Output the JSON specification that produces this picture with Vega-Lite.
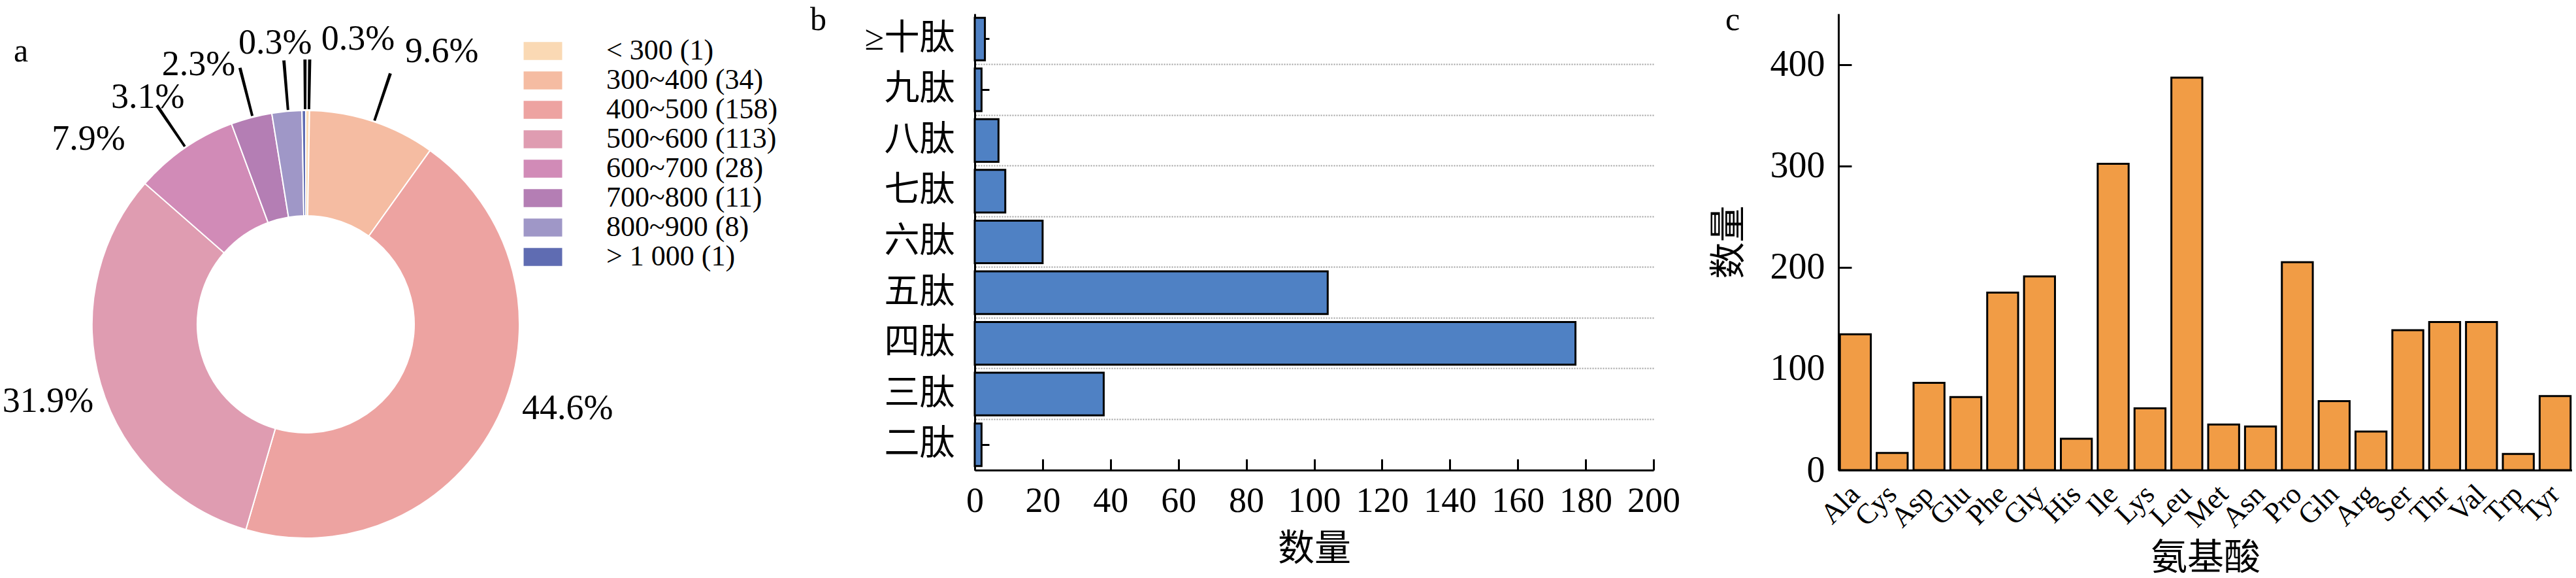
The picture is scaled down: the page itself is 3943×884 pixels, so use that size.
{
  "$schema": "https://vega.github.io/schema/vega-lite/v6.json",
  "padding": {"left": 3, "top": 6, "right": 0, "bottom": 0},
  "background": "white",
  "config": {
    "font": "Liberation Serif, Noto Sans CJK SC",
    "view": {"stroke": null},
    "title": {"font": "Liberation Serif", "fontSize": 50, "fontWeight": "normal", "anchor": "start", "frame": "group", "offset": 0, "baseline": "alphabetic", "color": "black"},
    "axis": {"domainColor": "black", "domainWidth": 3, "tickColor": "black", "tickWidth": 3, "labelColor": "black", "titleColor": "black", "labelFont": "Liberation Serif, Noto Sans CJK SC", "titleFont": "Liberation Serif, Noto Sans CJK SC", "titleFontWeight": "normal", "labelFontSize": 54, "titleFontSize": 56, "grid": false, "labelOverlap": false}
  },
  "datasets": {
    "pie": [
      {"i": 1, "range": "< 300 (1)", "n": 1, "pct": "0.3%"},
      {"i": 2, "range": "300~400 (34)", "n": 34, "pct": "9.6%"},
      {"i": 3, "range": "400~500 (158)", "n": 158, "pct": "44.6%"},
      {"i": 4, "range": "500~600 (113)", "n": 113, "pct": "31.9%"},
      {"i": 5, "range": "600~700 (28)", "n": 28, "pct": "7.9%"},
      {"i": 6, "range": "700~800 (11)", "n": 11, "pct": "3.1%"},
      {"i": 7, "range": "800~900 (8)", "n": 8, "pct": "2.3%"},
      {"i": 8, "range": "> 1 000 (1)", "n": 1, "pct": "0.3%"}
    ],
    "pep": [
      {"pep": "≥十肽", "n": 3},
      {"pep": "九肽", "n": 2},
      {"pep": "八肽", "n": 7},
      {"pep": "七肽", "n": 9},
      {"pep": "六肽", "n": 20},
      {"pep": "五肽", "n": 104},
      {"pep": "四肽", "n": 177},
      {"pep": "三肽", "n": 38},
      {"pep": "二肽", "n": 2}
    ],
    "aa": [
      {"aa": "Ala", "n": 134}, {"aa": "Cys", "n": 17}, {"aa": "Asp", "n": 86}, {"aa": "Glu", "n": 72},
      {"aa": "Phe", "n": 175}, {"aa": "Gly", "n": 191}, {"aa": "His", "n": 31}, {"aa": "Ile", "n": 302},
      {"aa": "Lys", "n": 61}, {"aa": "Leu", "n": 387}, {"aa": "Met", "n": 45}, {"aa": "Asn", "n": 43},
      {"aa": "Pro", "n": 205}, {"aa": "Gln", "n": 68}, {"aa": "Arg", "n": 38}, {"aa": "Ser", "n": 138},
      {"aa": "Thr", "n": 146}, {"aa": "Val", "n": 146}, {"aa": "Trp", "n": 16}, {"aa": "Tyr", "n": 73}
    ]
  },
  "hconcat": [
    {
      "hconcat": [
        {
          "vconcat": [
            {"width": 654, "height": 12, "data": {"values": []}, "mark": "point"},
            {
              "width": 654, "height": 654,
              "data": {"name": "pie"},
              "title": {"text": "a", "dx": -120, "dy": 75},
              "transform": [
                {"stack": "n", "groupby": [], "sort": [{"field": "i", "order": "ascending"}], "as": ["s", "e"]},
                {"fold": ["s", "e"], "as": ["k", "v"]},
                {"aggregate": [{"op": "mean", "field": "v", "as": "mid"}], "groupby": ["i", "range", "n", "pct"]}
              ],
              "layer": [
                {
                  "mark": {"type": "arc", "outerRadius": 327, "innerRadius": 166, "stroke": "white", "strokeWidth": 2},
                  "encoding": {
                    "theta": {"field": "n", "type": "quantitative", "stack": true},
                    "order": {"field": "i", "type": "quantitative"},
                    "color": {
                      "field": "range", "type": "nominal",
                      "scale": {
                        "domain": ["< 300 (1)", "300~400 (34)", "400~500 (158)", "500~600 (113)", "600~700 (28)", "700~800 (11)", "800~900 (8)", "> 1 000 (1)"],
                        "range": ["#FAD9B4", "#F5BCA2", "#EDA3A1", "#DF9CB1", "#D18BB7", "#B47EB4", "#9F97C7", "#5F6CB2"]
                      },
                      "legend": {"orient": "none", "legendX": 668, "legendY": 35, "title": null, "symbolType": "M-2,-0.94H2V0.94H-2Z", "symbolSize": 870, "symbolStrokeWidth": 0, "symbolOpacity": 1, "labelFont": "Liberation Serif", "labelFontSize": 44, "labelColor": "black", "labelOffset": 75, "rowPadding": 1, "padding": 0, "labelLimit": 1000}
                    }
                  }
                },
                {
                  "transform": [{"filter": {"field": "i", "oneOf": [1, 2, 5, 6, 7, 8]}}],
                  "mark": {"type": "arc", "outerRadius": 405, "innerRadius": 329, "theta2Offset": 0.012, "color": "black"},
                  "encoding": {"theta": {"field": "mid", "type": "quantitative", "stack": null}, "theta2": {"field": "mid"}}
                },
                {
                  "transform": [{"filter": {"field": "i", "equal": 1}}],
                  "mark": {"type": "text", "radius": 436, "dx": 76, "dy": 0, "fontSize": 54, "font": "Liberation Serif", "color": "black"},
                  "encoding": {"theta": {"field": "mid", "type": "quantitative", "stack": null}, "text": {"field": "pct", "type": "nominal"}}
                },
                {
                  "transform": [{"filter": {"field": "i", "equal": 2}}],
                  "mark": {"type": "text", "radius": 440, "dx": 70, "dy": 1, "fontSize": 54, "font": "Liberation Serif", "color": "black"},
                  "encoding": {"theta": {"field": "mid", "type": "quantitative", "stack": null}, "text": {"field": "pct", "type": "nominal"}}
                },
                {
                  "transform": [{"filter": {"field": "i", "equal": 3}}],
                  "mark": {"type": "text", "radius": 420, "dx": 23, "dy": -55, "fontSize": 54, "font": "Liberation Serif", "color": "black"},
                  "encoding": {"theta": {"field": "mid", "type": "quantitative", "stack": null}, "text": {"field": "pct", "type": "nominal"}}
                },
                {
                  "transform": [{"filter": {"field": "i", "equal": 4}}],
                  "mark": {"type": "text", "radius": 414, "dx": 3, "dy": 2, "fontSize": 54, "font": "Liberation Serif", "color": "black"},
                  "encoding": {"theta": {"field": "mid", "type": "quantitative", "stack": null}, "text": {"field": "pct", "type": "nominal"}}
                },
                {
                  "transform": [{"filter": {"field": "i", "equal": 5}}],
                  "mark": {"type": "text", "radius": 436, "dx": -85, "dy": 76, "fontSize": 54, "font": "Liberation Serif", "color": "black"},
                  "encoding": {"theta": {"field": "mid", "type": "quantitative", "stack": null}, "text": {"field": "pct", "type": "nominal"}}
                },
                {
                  "transform": [{"filter": {"field": "i", "equal": 6}}],
                  "mark": {"type": "text", "radius": 423, "dx": -134, "dy": 62, "fontSize": 54, "font": "Liberation Serif", "color": "black"},
                  "encoding": {"theta": {"field": "mid", "type": "quantitative", "stack": null}, "text": {"field": "pct", "type": "nominal"}}
                },
                {
                  "transform": [{"filter": {"field": "i", "equal": 7}}],
                  "mark": {"type": "text", "radius": 429, "dx": -126, "dy": 30, "fontSize": 54, "font": "Liberation Serif", "color": "black"},
                  "encoding": {"theta": {"field": "mid", "type": "quantitative", "stack": null}, "text": {"field": "pct", "type": "nominal"}}
                },
                {
                  "transform": [{"filter": {"field": "i", "equal": 8}}],
                  "mark": {"type": "text", "radius": 436, "dx": -43, "dy": 6, "fontSize": 54, "font": "Liberation Serif", "color": "black"},
                  "encoding": {"theta": {"field": "mid", "type": "quantitative", "stack": null}, "text": {"field": "pct", "type": "nominal"}}
                }
              ]
            }
          ],
          "spacing": 0
        },
        {
          "width": 1039, "height": 698,
          "data": {"name": "pep"},
          "title": {"text": "b", "dx": -252, "dy": 39},
          "layer": [
            {
              "mark": {"type": "bar", "color": "#4F81C4", "stroke": "black", "strokeWidth": 3, "height": {"band": 0.84}},
              "encoding": {
                "y": {"field": "pep", "type": "nominal", "sort": ["≥十肽", "九肽", "八肽", "七肽", "六肽", "五肽", "四肽", "三肽", "二肽"], "scale": {"paddingInner": 0, "paddingOuter": 0}, "axis": {"title": null, "tickSize": -22, "labelPadding": 53, "labelFontSize": 54}},
                "x": {"field": "n", "type": "quantitative", "scale": {"domain": [0, 200], "nice": false}, "axis": {"values": [0, 20, 40, 60, 80, 100, 120, 140, 160, 180, 200], "labelFlush": false, "labelFontSize": 54, "tickSize": -17, "labelPadding": 37, "title": "数量", "titlePadding": 19}}
              }
            },
            {
              "mark": {"type": "bar", "opacity": 0, "height": {"band": 0.84}},
              "encoding": {
                "y": {"field": "pep", "type": "nominal", "sort": ["≥十肽", "九肽", "八肽", "七肽", "六肽", "五肽", "四肽", "三肽", "二肽"], "axis": {"orient": "right", "grid": true, "bandPosition": 1, "domain": false, "ticks": false, "labels": false, "title": null, "gridColor": "#a0a0a0", "gridDash": [2, 2], "gridWidth": 2}},
                "x": {"field": "n", "type": "quantitative"}
              }
            }
          ],
          "resolve": {"axis": {"y": "independent"}}
        }
      ],
      "spacing": 301
    },
    {
      "width": 1123, "height": 698,
      "data": {"name": "aa"},
      "title": {"text": "c", "dx": -173, "dy": 39},
      "mark": {"type": "bar", "color": "#F19C45", "stroke": "black", "strokeWidth": 3},
      "encoding": {
        "x": {"field": "aa", "type": "nominal", "sort": null, "scale": {"paddingInner": 0.16, "paddingOuter": 0.04}, "axis": {"labelAngle": -45, "labelAlign": "right", "labelBaseline": "middle", "labelFontSize": 44, "tickSize": -14, "labelPadding": 44, "title": "氨基酸", "titlePadding": 12}},
        "y": {"field": "n", "type": "quantitative", "scale": {"domain": [0, 450], "nice": false}, "axis": {"values": [0, 100, 200, 300, 400], "labelFontSize": 56, "tickSize": -20, "labelPadding": 41, "title": "数量", "titlePadding": 34}}
      }
    }
  ],
  "spacing": 46
}
